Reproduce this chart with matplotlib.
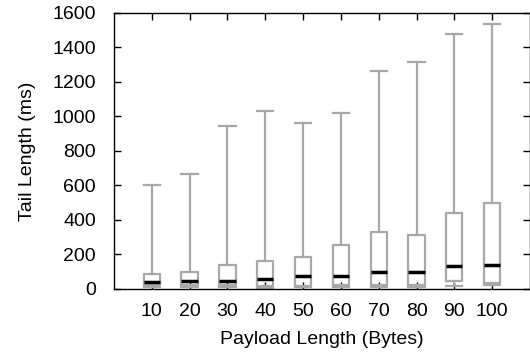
import matplotlib
matplotlib.use('Agg')
import matplotlib.pyplot as plt

plt.rcParams['font.family'] = ['Liberation Sans', 'DejaVu Sans']

payload = [10, 20, 30, 40, 50, 60, 70, 80, 90, 100]
whislo = [12, 10, 10, 8, 10, 10, 12, 12, 17, 21]
q1 = [25, 24, 20, 18, 19, 21, 22, 20, 48, 37]
med = [41, 43, 47, 56, 74, 77, 97, 97, 130, 139]
q3 = [87, 96, 136, 160, 186, 257, 332, 315, 440, 500]
whishi = [603, 665, 947, 1033, 962, 1018, 1265, 1318, 1478, 1536]

stats = []
for i in range(len(payload)):
    stats.append({'whislo': whislo[i], 'q1': q1[i], 'med': med[i],
                  'q3': q3[i], 'whishi': whishi[i], 'fliers': []})

fig = plt.figure(figsize=(5.3, 3.58), dpi=100)
ax = fig.add_axes([0.215, 0.193, 0.785, 0.771])

grey = '#a8a8a8'
positions = list(range(1, len(payload) + 1))
ax.bxp(stats, positions=positions, widths=0.43, showfliers=False,
       boxprops=dict(color=grey, linewidth=1.6),
       whiskerprops=dict(color=grey, linewidth=1.6),
       capprops=dict(color=grey, linewidth=1.6),
       medianprops=dict(color='black', linewidth=2.5),
       capwidths=0.43)

ax.set_xlim(0, 11)
ax.set_ylim(0, 1600)
ax.set_xticks(positions)
ax.set_xticklabels([str(p) for p in payload])
ax.set_yticks(range(0, 1601, 200))
ax.tick_params(direction='in', length=5, width=1, labelsize=14,
               top=True, right=True)
ax.tick_params(axis='y', pad=13)
ax.tick_params(axis='x', pad=10)
for s in ax.spines.values():
    s.set_linewidth(1)
ax.set_xlabel('Payload Length (Bytes)', fontsize=14, labelpad=8)
ax.set_ylabel('Tail Length (ms)', fontsize=14, labelpad=12)

fig.savefig('out.png', dpi=100)
